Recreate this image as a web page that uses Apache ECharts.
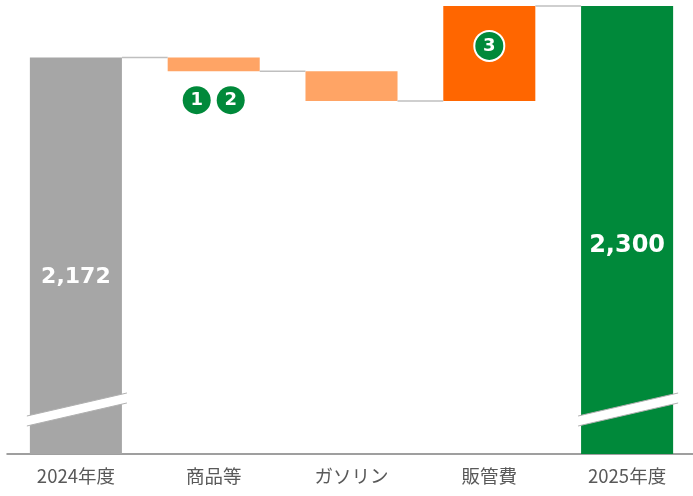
<!DOCTYPE html>
<html>
<head>
<meta charset="utf-8">
<script src="https://cdn.jsdelivr.net/npm/echarts@6/dist/echarts.min.js"></script>
<style>
  html, body { margin: 0; padding: 0; background: #fff; }
  #chart { width: 693px; height: 496px; }
</style>
</head>
<body>
<div id="chart"></div>
<script>
// data
var categories = ["2024年度", "商品等", "ガソリン", "販管費", "2025年度"];
var startValue = 2172;
var changes = [-34, -74, 236];
var endValue = 2300;
var barColors = ["#a6a6a6", "#ffa465", "#ffa465", "#ff6600", "#00893a"];
var badgeCats = ["商品等", "商品等", "販管費"];
var badgeValues = [2066, 2066, 2201];
var badgeTexts = ["1", "2", "3"];
var badgeOffsets = [-17, 17, 0];
var breakValue = 1297;

// waterfall helper / visible parts
var helper = [0];
var visible = [startValue];
var levels = [startValue];
var run = startValue;
changes.forEach(function (d) {
  var next = run + d;
  helper.push(Math.min(run, next));
  visible.push(Math.abs(d));
  run = next;
  levels.push(run);
});
helper.push(0);
visible.push(endValue);
// connector levels between neighbouring bars
var connectors = levels.map(function (v, i) { return [i, v]; });

var chart = echarts.init(document.getElementById("chart"));

var BAR_RATIO = 0.668;

chart.setOption({
  animation: false,
  grid: { left: 7, right: -3, top: 0, bottom: 42, outerBoundsMode: "none", containLabel: false },
  xAxis: {
    type: "category",
    data: categories,
    axisTick: { show: false },
    axisLine: { lineStyle: { color: "#808080", width: 1.5 } },
    axisLabel: {
      color: "#595959",
      fontSize: 18.5,
      fontFamily: "Noto Sans CJK JP",
      margin: 13
    }
  },
  yAxis: {
    type: "value",
    min: 1187,
    max: 2315,
    show: false,
    splitLine: { show: false }
  },
  series: [
    {
      type: "bar",
      stack: "wf",
      barWidth: "66.8%",
      itemStyle: { color: "transparent" },
      data: helper,
      silent: true
    },
    {
      type: "bar",
      stack: "wf",
      barWidth: "66.8%",
      data: visible.map(function (v, i) {
        var item = { value: v, itemStyle: { color: barColors[i] } };
        if (i === 0 || i === visible.length - 1) {
          item.label = {
            show: true,
            position: "inside",
            offset: [0, i === 0 ? 22 : 16],
            formatter: function (p) { return echarts.format.addCommas(p.value); },
            color: "#fff",
            fontWeight: "bold",
            fontSize: i === 0 ? 22 : 24,
            fontFamily: "DejaVu Sans"
          };
        }
        return item;
      })
    },
    {
      // connector lines
      type: "custom",
      silent: true,
      data: connectors,
      renderItem: function (params, api) {
        var p = api.coord([api.value(0), api.value(1)]);
        var w = api.size([1, 0])[0];
        var half = w * BAR_RATIO / 2;
        return {
          type: "line",
          shape: { x1: p[0] + half, y1: p[1], x2: p[0] + w - half, y2: p[1] },
          style: { stroke: "#bfbfbf", lineWidth: 1.5 }
        };
      },
      z: 3
    },
    {
      // axis break marks
      type: "custom",
      silent: true,
      data: [[0, breakValue], [4, breakValue]],
      renderItem: function (params, api) {
        var p = api.coord([api.value(0), api.value(1)]);
        var w = api.size([1, 0])[0] * BAR_RATIO;
        var l = p[0] - w / 2 - 3, r = p[0] + w / 2 + 5;
        var up = function (x) { return p[1] - 5 - 0.23 * (x - p[0]); };
        return {
          type: "group",
          children: [
            {
              type: "polygon",
              shape: { points: [[l, up(l)], [r, up(r)], [r, up(r) + 10], [l, up(l) + 10]] },
              style: { fill: "#fff" }
            },
            {
              type: "line",
              shape: { x1: l, y1: up(l), x2: r, y2: up(r) },
              style: { stroke: "#b0b0b0", lineWidth: 1 }
            },
            {
              type: "line",
              shape: { x1: l, y1: up(l) + 10, x2: r, y2: up(r) + 10 },
              style: { stroke: "#b0b0b0", lineWidth: 1 }
            }
          ]
        };
      },
      z: 4
    },
    {
      // numbered badges
      type: "scatter",
      silent: true,
      data: badgeCats.map(function (c, i) {
        var ringed = badgeTexts[i] === "3";
        return {
          value: [c, badgeValues[i]],
          symbolSize: ringed ? 30 : 28,
          symbolOffset: [badgeOffsets[i], 0],
          itemStyle: {
            color: "#00893a",
            opacity: 1,
            borderColor: "#fff",
            borderWidth: ringed ? 2 : 0
          },
          label: {
            show: true,
            position: "inside",
            formatter: badgeTexts[i],
            color: "#fff",
            fontWeight: "bold",
            fontSize: 18,
            fontFamily: "DejaVu Sans"
          }
        };
      }),
      z: 5
    }
  ]
});
</script>
</body>
</html>
